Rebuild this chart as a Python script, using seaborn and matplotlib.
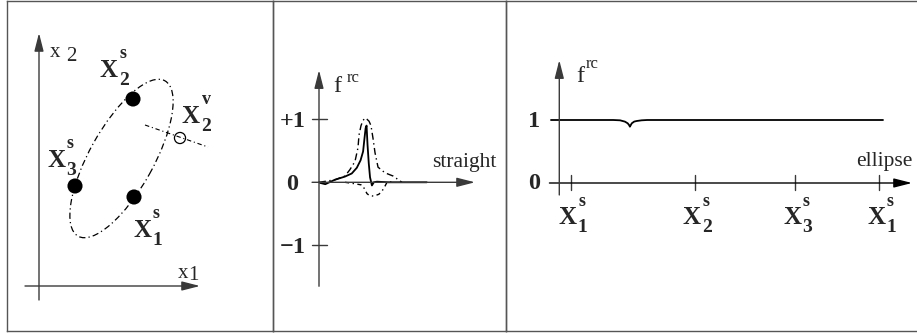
import matplotlib
matplotlib.use("Agg")
import matplotlib.pyplot as plt
from matplotlib.patches import Ellipse
import seaborn as sns

# ---------------- data ----------------
# left panel: the three sample points on the ellipse in the (x1, x2) plane
sample_x1 = [9.5, 9.4, 3.6]
sample_x2 = [8.9, 18.7, 10.0]
sample_subs = ["1", "2", "3"]
ellipse_center = (8.25, 12.75)
ellipse_size = (17.8, 6.4)
ellipse_tilt = 60.8
virtual_x1 = [14.1]
virtual_x2 = [14.8]
normal_x1 = [10.6, 16.9]
normal_x2 = [16.1, 13.9]

# middle panel: f_rc along a straight line
straight_s = [0, 0.02, 0.10, 0.25, 0.41, 0.52, 0.60, 0.66, 0.70, 0.72, 0.74,
              0.755, 0.77, 0.79, 0.81, 0.84, 0.87, 0.92, 1.10, 1.71]
straight_f = [0, -0.01, -0.03, 0.04, 0.09, 0.14, 0.23, 0.35, 0.49, 0.68, 0.86,
              0.90, 0.60, 0.30, 0.08, -0.05, 0.0, 0.01, 0.0, 0.0]
peak_s = [0, 0.254, 0.413, 0.49, 0.571, 0.619, 0.635, 0.667, 0.698, 0.730,
          0.762, 0.794, 0.825, 0.857, 0.889, 0.937, 1.048, 1.175, 1.317]
peak_f = [0, 0.04, 0.10, 0.20, 0.33, 0.55, 0.75, 0.90, 0.98, 1.02,
          1.0, 0.97, 0.90, 0.70, 0.47, 0.24, 0.15, 0.10, 0.0]
dip_s = [0.413, 0.55, 0.667, 0.698, 0.730, 0.762, 0.80, 0.87, 0.95, 1.0,
         1.048, 1.074, 1.10, 1.2]
dip_f = [0, -0.02, -0.04, -0.06, -0.12, -0.18, -0.21, -0.22, -0.19, -0.14,
         -0.06, -0.01, 0.01, 0]
straight_ticks = [1, -1]
straight_ticklabels = ["+1", "0", "\u22121"]

# right panel: f_rc along the ellipse
ellipse_t = [-0.064, 0.138, 0.160, 0.176, 0.185, 0.190, 0.192, 0.198, 0.206,
             0.214, 0.230, 0.248, 1.013]
ellipse_f = [1.0, 1.0, 0.995, 0.974, 0.947, 0.915, 0.894, 0.947, 0.975,
             0.984, 0.995, 1.0, 1.0]
ellipse_ticks = [0.0, 0.403, 0.728, 1.0]
ellipse_tick_subs = ["1", "2", "3", "1"]

# ---------------- style ----------------
sns.set_theme(style="white")
plt.rcParams["font.family"] = ["Liberation Serif", "DejaVu Serif"]

W, H = 917, 333
PT = 72 / 100  # points per pixel at 100 dpi
fig = plt.figure(figsize=(W / 100, H / 100), dpi=100)
fig.patch.set_facecolor("white")

AX_C = "#3a3a3a"
FRAME_C = "#555555"


def panel(px_l, px_r, py_t, py_b, ox, oy, sx, sy, spines):
    ax = fig.add_axes([px_l / W, (H - py_b) / H, (px_r - px_l) / W, (py_b - py_t) / H])
    ax.set_xlim((px_l - ox) / sx, (px_r - ox) / sx)
    ax.set_ylim((oy - py_b) / sy, (oy - py_t) / sy)
    ax.set_xticks([])
    ax.set_yticks([])
    ax.set_facecolor("none")
    for side, sp in ax.spines.items():
        sp.set_visible(side in spines)
        sp.set_color(FRAME_C)
        sp.set_linewidth(1.0)
    return ax


def arrow(ax, start, tip, color=AX_C):
    ax.annotate("", xy=tip, xytext=start,
                arrowprops=dict(arrowstyle="-|>,head_length=0.55,head_width=0.14",
                                mutation_scale=20, lw=1.0, color=color,
                                shrinkA=0, shrinkB=0))


def point_label(ax, x, y, sub, sup, dx=0.0):
    """Bold X with a subscript and superscript; (x, y) is the left end of the X baseline."""
    kw = dict(xycoords="data", textcoords="offset points", fontweight="bold",
              ha="left", va="baseline")
    ax.annotate("X", xy=(x, y), xytext=(dx * PT, 0), fontsize=18, **kw)
    ax.annotate(sub, xy=(x, y), xytext=((dx + 19) * PT, -8 * PT), fontsize=14, **kw)
    ax.annotate(sup, xy=(x, y), xytext=((dx + 19.5) * PT, 18.5 * PT), fontsize=13, **kw)


# ---------------- left panel ----------------
ax1 = panel(7, 272.5, 1, 331, 39, 286, 10, 10, ("left", "top", "bottom", "right"))
arrow(ax1, (-1.4, 0), (16.1, 0))
arrow(ax1, (0, -1.4), (0, 25.3))
ax1.text(1.1, 22.9, "x", fontsize=15, va="baseline", ha="left")
ax1.text(2.7, 22.5, "2", fontsize=15, va="baseline", ha="left")
ax1.text(13.9, 0.8, "x", fontsize=15, va="baseline", ha="left")
ax1.text(14.9, 0.6, "1", fontsize=15, va="baseline", ha="left")

ax1.add_patch(Ellipse(ellipse_center, ellipse_size[0], ellipse_size[1], angle=ellipse_tilt,
                      fill=False, edgecolor="black", lw=0.9,
                      linestyle=(0, (5, 2.5, 1, 2.5))))
sns.lineplot(x=normal_x1, y=normal_x2, ax=ax1, color="black", lw=0.8,
             linestyle=(0, (4, 2.5, 1, 2.5)), estimator=None, sort=False)
sns.scatterplot(x=sample_x1, y=sample_x2, ax=ax1, s=118, color="black",
                edgecolor="none", zorder=5)
sns.scatterplot(x=virtual_x1, y=virtual_x2, ax=ax1, s=64, facecolor="none",
                edgecolor="black", linewidth=0.9, zorder=5)

label_pos = [(9.4, 4.9), (6.1, 20.9), (0.8, 11.9)]
for (lx, ly), sub in zip(label_pos, sample_subs):
    point_label(ax1, lx, ly, sub, "s")
point_label(ax1, 14.3, 16.3, "2", "v")

# ---------------- middle panel ----------------
ax2 = panel(272.5, 505.7, 1, 331, 319, 182.3, 63, 63, ("left", "top", "bottom", "right"))
arrow(ax2, (-0.11, 0), (2.476, 0))
arrow(ax2, (0, -1.65), (0, 1.78))
for yv in straight_ticks:
    ax2.plot([-0.11, 0.13], [yv, yv], color=AX_C, lw=1.0)
for yv, lab in zip([1, 0, -1], straight_ticklabels):
    ax2.text(-0.42, yv - 0.03, lab, fontsize=17.5, fontweight="bold",
             ha="center", va="center")
ax2.text(0.222, 1.43, "f", fontsize=17.5, ha="left", va="baseline")
ax2.text(0.444, 1.59, "rc", fontsize=12, ha="left", va="baseline")
ax2.text(1.79, 0.243, "straight", fontsize=15.5, ha="left", va="baseline")

sns.lineplot(x=peak_s, y=peak_f, ax=ax2, color="black", lw=1.0,
             linestyle=(0, (5, 2.5, 1, 2.5)), estimator=None, sort=False)
sns.lineplot(x=dip_s, y=dip_f, ax=ax2, color="black", lw=1.0,
             linestyle=(0, (3, 2.5, 1, 2.5)), estimator=None, sort=False)
sns.lineplot(x=straight_s, y=straight_f, ax=ax2, color="black", lw=1.3,
             estimator=None, sort=False)

# ---------------- right panel ----------------
ax3 = panel(505.7, 917, 1, 331, 570.7, 183, 308.3, 63, ("left", "top", "bottom"))
arrow(ax3, (-0.069, 0), (1.107, 0), color="black")
arrow(ax3, (-0.037, -0.19), (-0.037, 1.95))
for tv, sub in zip(ellipse_ticks, ellipse_tick_subs):
    ax3.plot([tv, tv], [-0.111, 0.127], color=AX_C, lw=1.0)
    point_label(ax3, tv, -0.656, sub, "s", dx=-12)
ax3.text(-0.119, 0.976, "1", fontsize=17.5, fontweight="bold", ha="center", va="center")
ax3.text(-0.119, -0.008, "0", fontsize=17.5, fontweight="bold", ha="center", va="center")
ax3.text(0.017, 1.60, "f", fontsize=17.5, ha="left", va="baseline")
ax3.text(0.050, 1.83, "rc", fontsize=12, ha="left", va="baseline")
ax3.text(1.017, 0.27, "ellipse", fontsize=15.5, ha="center", va="baseline")

sns.lineplot(x=ellipse_t, y=ellipse_f, ax=ax3, color="black", lw=1.3,
             estimator=None, sort=False)

for a in (ax1, ax2, ax3):
    leg = a.get_legend()
    if leg is not None:
        leg.remove()

fig.savefig("out.png", dpi=100, facecolor="white")
